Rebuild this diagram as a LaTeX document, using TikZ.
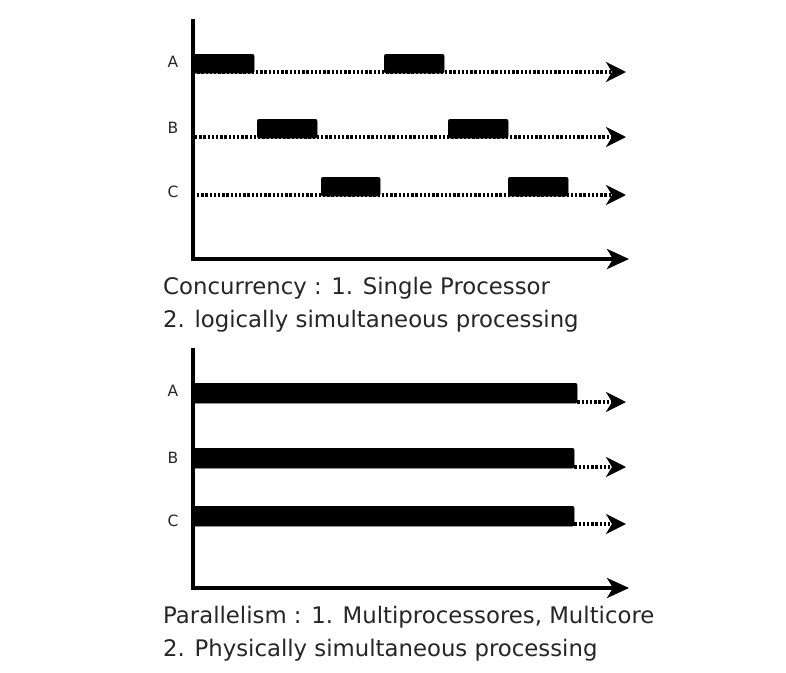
\documentclass[tikz,border=0pt]{standalone}
\usepackage{fontspec}
\setmainfont{DejaVu Sans}
\usetikzlibrary{arrows.meta}
\begin{document}
\begin{tikzpicture}[x=1pt,y=-1pt,
  axis/.style={line width=3.4pt, -{Stealth[length=22pt,width=20pt,inset=6pt]}},
  track/.style={line width=3.2pt, dash pattern=on 2.4pt off 1.8pt, -{Stealth[length=20pt,width=20pt,inset=6pt]}},
  task/.style={fill=black, draw=black, rounded corners=2pt, inner sep=0pt, minimum height=19pt, anchor=north west},
  lbl/.style={font=\fontsize{15.5}{17}\selectfont, anchor=center, inner sep=0pt, text=black!85},
  caption/.style={font=\fontsize{22.8}{26}\selectfont, anchor=west, inner sep=0pt, text=black!85}]
\useasboundingbox (0,0) rectangle (786,672);
\fill[white] (0,0) rectangle (786,672);
% ---------- top panel ----------
\coordinate (t1) at (193,19);
\coordinate (o1) at (193,259);
\coordinate (x1) at (629,259);
\draw[axis] (t1) -- (o1) -- (x1);
\coordinate (as) at (193,72);  \coordinate (ae) at (626,72);
\coordinate (bs) at (195,137); \coordinate (be) at (626,137);
\coordinate (cs) at (197,195); \coordinate (ce) at (626,195);
\draw[track] (as) -- (ae);
\draw[track] (bs) -- (be);
\draw[track] (cs) -- (ce);
\node[task, minimum width=61pt] (A1) at (193,54) {};
\node[task, minimum width=60pt] (A2) at (384,54) {};
\node[task, minimum width=60pt] (B1) at (257,119) {};
\node[task, minimum width=60pt] (B2) at (448,119) {};
\node[task, minimum width=59pt] (C1) at (321,177) {};
\node[task, minimum width=60pt] (C2) at (508,177) {};
\node[lbl] (la) at (173,62) {A};
\node[lbl] (lb) at (173,128) {B};
\node[lbl] (lc) at (173,192) {C};
\node[caption] (cap1) at (163,288) {Concurrency : 1. Single Processor};
\node[caption] (cap2) at (163,321) {2. logically simultaneous processing};
% ---------- bottom panel ----------
\coordinate (t2) at (193,348);
\coordinate (o2) at (193,588);
\coordinate (x2) at (629,588);
\draw[axis] (t2) -- (o2) -- (x2);
\node[task, minimum width=384pt, minimum height=20pt] (PA) at (193,383) {};
\node[task, minimum width=381pt, minimum height=20pt] (PB) at (193,448) {};
\node[task, minimum width=381pt, minimum height=20pt] (PC) at (193,506) {};
\coordinate (pae) at (626,402);
\coordinate (pbe) at (626,467);
\coordinate (pce) at (626,524);
\draw[track] (PA.south east |- pae) -- (pae);
\draw[track] (PB.south east |- pbe) -- (pbe);
\draw[track] (PC.south east |- pce) -- (pce);
\node[lbl] (pla) at (173,391) {A};
\node[lbl] (plb) at (173,458) {B};
\node[lbl] (plc) at (173,521) {C};
\node[caption] (cap3) at (163,617) {Parallelism : 1. Multiprocessores, Multicore};
\node[caption] (cap4) at (163,650) {2. Physically simultaneous processing};
\end{tikzpicture}
\end{document}
